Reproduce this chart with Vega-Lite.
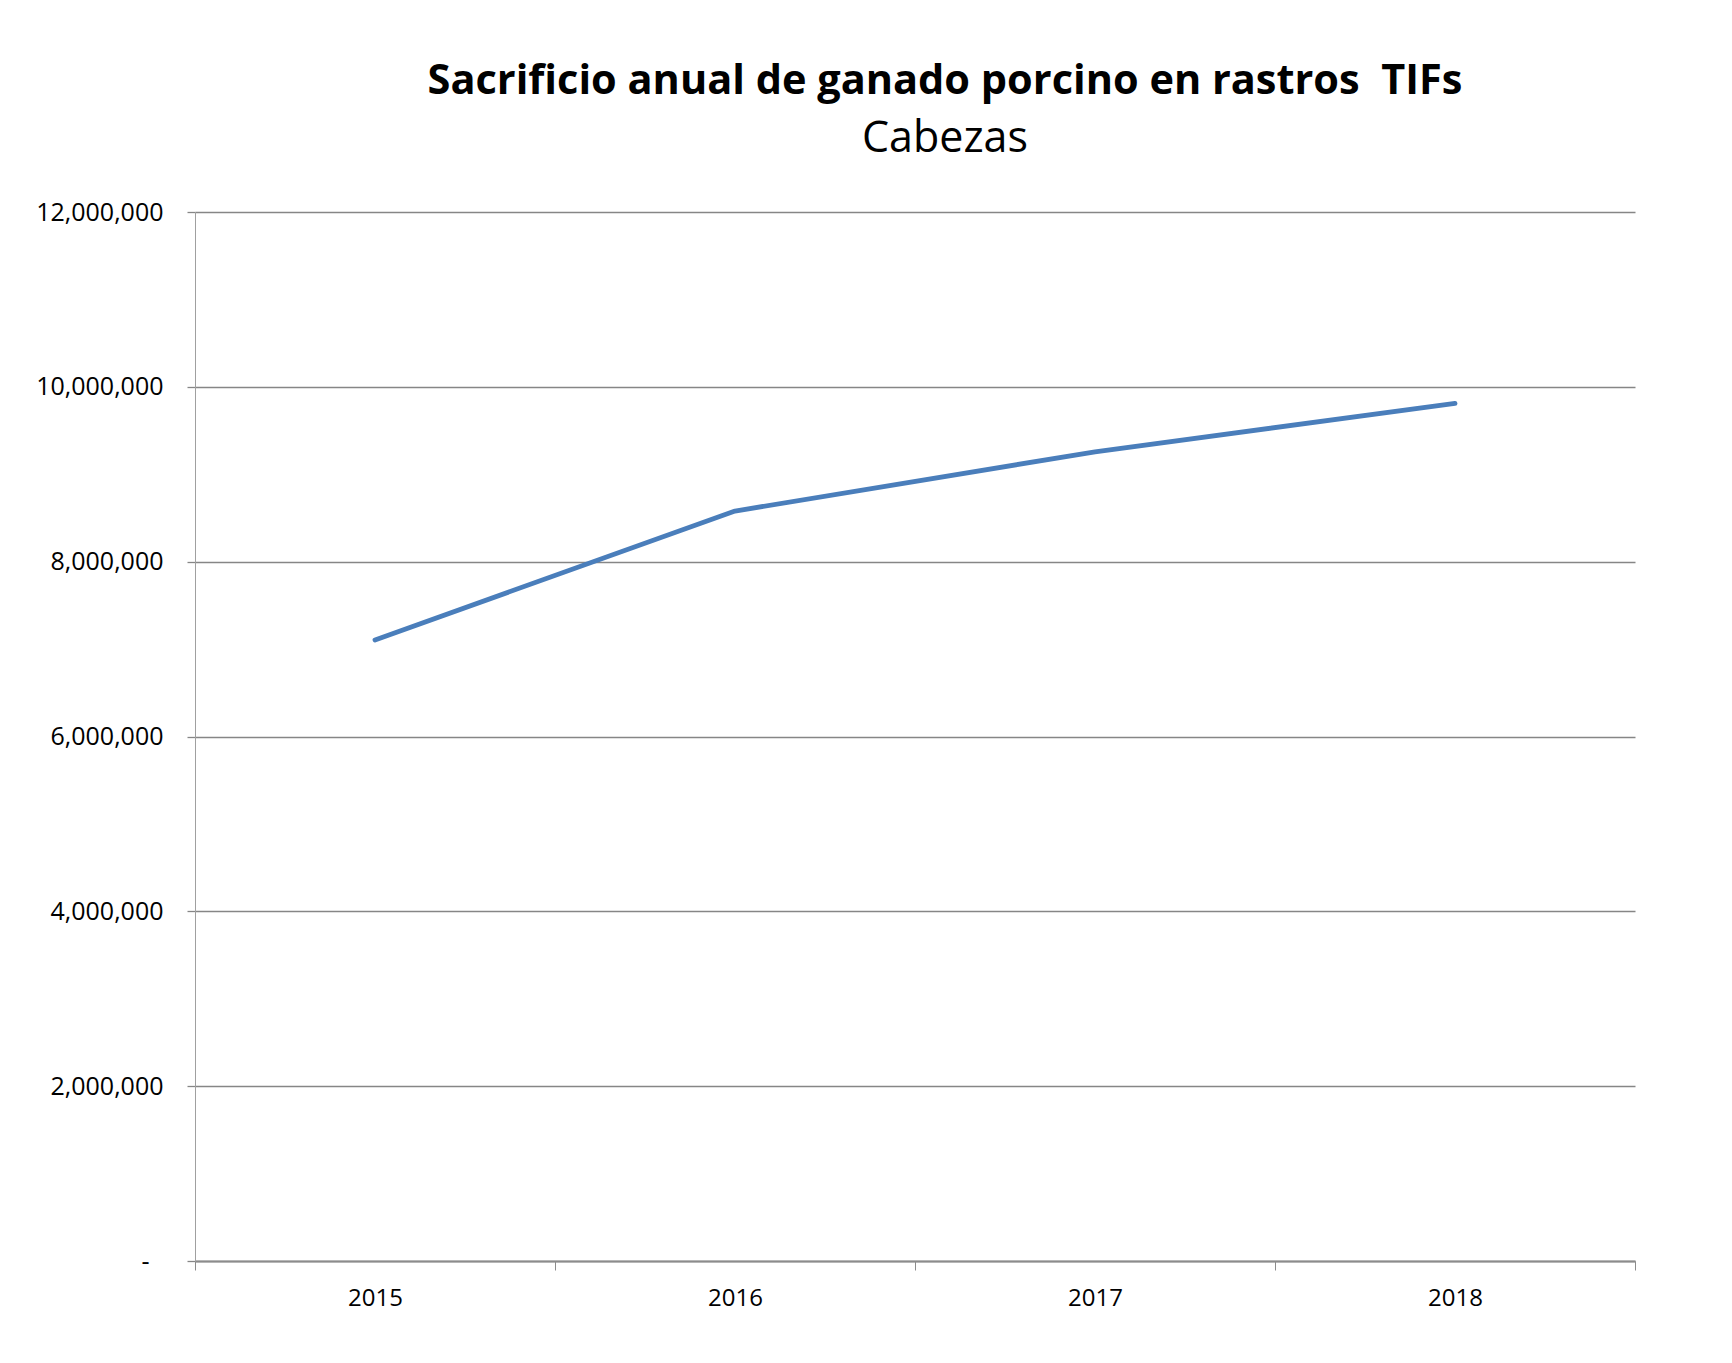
{
  "$schema": "https://vega.github.io/schema/vega-lite/v6.json",
  "width": 1440,
  "height": 1049,
  "autosize": "none",
  "padding": {"left": 195, "top": 212, "right": 97, "bottom": 102},
  "background": "white",
  "config": {"view": {"stroke": null}, "font": "Open Sans"},
  "title": {
    "text": "Sacrificio anual de ganado porcino en rastros \u00a0TIFs",
    "subtitle": "Cabezas",
    "font": "Open Sans",
    "fontSize": 41.5,
    "fontWeight": "bold",
    "color": "black",
    "subtitleFont": "Open Sans",
    "subtitleFontSize": 43,
    "subtitleColor": "black",
    "subtitlePadding": 16,
    "anchor": "middle",
    "frame": "group",
    "dx": 30,
    "offset": 39
  },
  "data": {
    "values": [
      {"year": 2015, "cabezas": 7105000},
      {"year": 2016, "cabezas": 8579000},
      {"year": 2017, "cabezas": 9257000},
      {"year": 2018, "cabezas": 9810000}
    ]
  },
  "mark": {"type": "line", "color": "#4a7ebb", "strokeWidth": 4.8, "strokeCap": "round", "strokeJoin": "round"},
  "encoding": {
    "x": {
      "field": "year",
      "type": "quantitative",
      "scale": {"domain": [2014.5, 2018.5], "nice": false, "zero": false},
      "axis": {
        "values": [2014.5, 2015.5, 2016.5, 2017.5, 2018.5],
        "labelExpr": "datum.value < 2018 ? format(datum.value + 0.5, 'd') : ''",
        "labelOffset": 180,
        "labelFlush": false,
        "labelOverlap": false,
        "title": null,
        "grid": false,
        "domainColor": "#8c8c8c",
        "domainWidth": 2,
        "tickColor": "#8c8c8c",
        "tickSize": 9,
        "tickWidth": 1,
        "labelFontSize": 24,
        "labelColor": "black",
        "labelPadding": 16,
        "labelFont": "Open Sans"
      }
    },
    "y": {
      "field": "cabezas",
      "type": "quantitative",
      "scale": {"domain": [0, 12000000], "nice": false},
      "axis": {
        "values": [0, 2000000, 4000000, 6000000, 8000000, 10000000, 12000000],
        "labelExpr": "datum.value == 0 ? '-' : format(datum.value, ',')",
        "title": null,
        "grid": true,
        "gridColor": "#868686",
        "gridWidth": 1.3,
        "domainColor": "#a0a0a0",
        "domainWidth": 1,
        "tickColor": "#868686",
        "tickSize": 8,
        "tickWidth": 1.3,
        "labelFontSize": 25,
        "labelColor": "black",
        "labelPadding": {"condition": {"test": "datum.value == 0", "value": 38}, "value": 24},
        "labelFont": "Open Sans"
      }
    }
  }
}
